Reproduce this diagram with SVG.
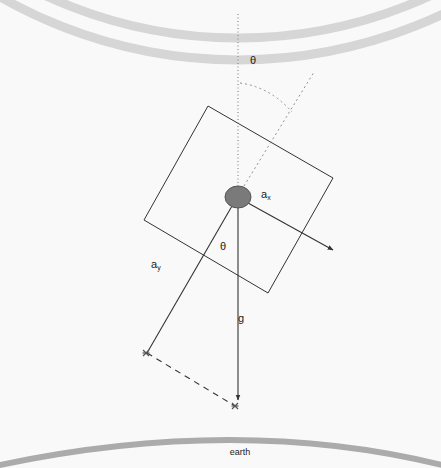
<svg xmlns="http://www.w3.org/2000/svg" width="441" height="468" viewBox="0 0 441 468">
  <defs>
    <style>
      .lbl { font-family: "Liberation Sans", Arial, sans-serif; fill: #222; }
      .wm { fill: none; stroke: #d6d6d6; stroke-width: 9; }
      .dot-line { fill: none; stroke: #8a8a8a; stroke-width: 1.2; stroke-dasharray: 1 2.5; }
      .dash-grey { fill: none; stroke: #909090; stroke-width: 1; stroke-dasharray: 2 3; }
      .solid { fill: none; stroke: #333; stroke-width: 1.1; }
      .star { stroke: #555; stroke-width: 1.2; }
    </style>
    <marker id="arrow" viewBox="0 0 10 10" refX="9" refY="5" markerWidth="6" markerHeight="6" orient="auto" markerUnits="userSpaceOnUse">
      <path d="M0,1 L10,5 L0,9 z" fill="#333"/>
    </marker>
    <g id="starShape">
      <line class="star" x1="-3" y1="-3" x2="3" y2="3"/>
      <line class="star" x1="-3" y1="3" x2="3" y2="-3"/>
      <line class="star" x1="-3.5" y1="0" x2="3.5" y2="0"/>
    </g>
  </defs>

  <rect x="0" y="0" width="441" height="468" fill="#f9f9f9"/>

  <!-- watermark arcs -->
  <g id="watermark">
    <circle class="wm" cx="238" cy="-420" r="458"/>
    <circle class="wm" cx="238" cy="-420" r="480"/>
  </g>

  <!-- earth -->
  <g id="earth">
    <path d="M-5,466 Q238,414 446,466" fill="none" stroke="#ababab" stroke-width="6"/>
    <text class="lbl" x="240" y="455" font-size="9" text-anchor="middle">earth</text>
  </g>

  <!-- body (square) -->
  <g id="body">
    <polygon points="208,106 333,178 268,293 144,220" fill="none" stroke="#333" stroke-width="1"/>
  </g>

  <g id="connectors">
    <line class="dot-line" x1="238" y1="14" x2="238" y2="186"/>
    <line class="dash-grey" x1="244" y1="186" x2="314" y2="72"/>
    <path class="dash-grey" d="M240,83 Q270,87 292,112"/>
    <line class="solid" x1="238" y1="200" x2="238" y2="400" stroke-width="1.4" marker-end="url(#arrow)"/>
    <line class="solid" x1="248" y1="203" x2="333" y2="250" marker-end="url(#arrow)"/>
    <line class="solid" x1="232" y1="206" x2="147" y2="353"/>
    <line x1="147" y1="353" x2="235" y2="406" stroke="#333" stroke-width="1.1" stroke-dasharray="6 5"/>
    <use href="#starShape" x="146" y="353"/>
    <use href="#starShape" x="235" y="406"/>
  </g>

  <!-- mass point -->
  <g id="mass">
    <ellipse cx="238" cy="197" rx="13" ry="11" fill="#7a7a7a" stroke="#555" stroke-width="1"/>
  </g>

  <!-- labels -->
  <g id="labels">
    <text class="lbl" x="250" y="64" font-size="11">θ</text>
    <text class="lbl" x="261" y="198" font-size="11">a<tspan font-size="7" dy="2">x</tspan></text>
    <text class="lbl" x="151" y="268" font-size="11">a<tspan font-size="7" dy="2">y</tspan></text>
    <text class="lbl" x="220" y="250" font-size="11">θ</text>
    <text class="lbl" x="238" y="322" font-size="11">g</text>
  </g>
</svg>
